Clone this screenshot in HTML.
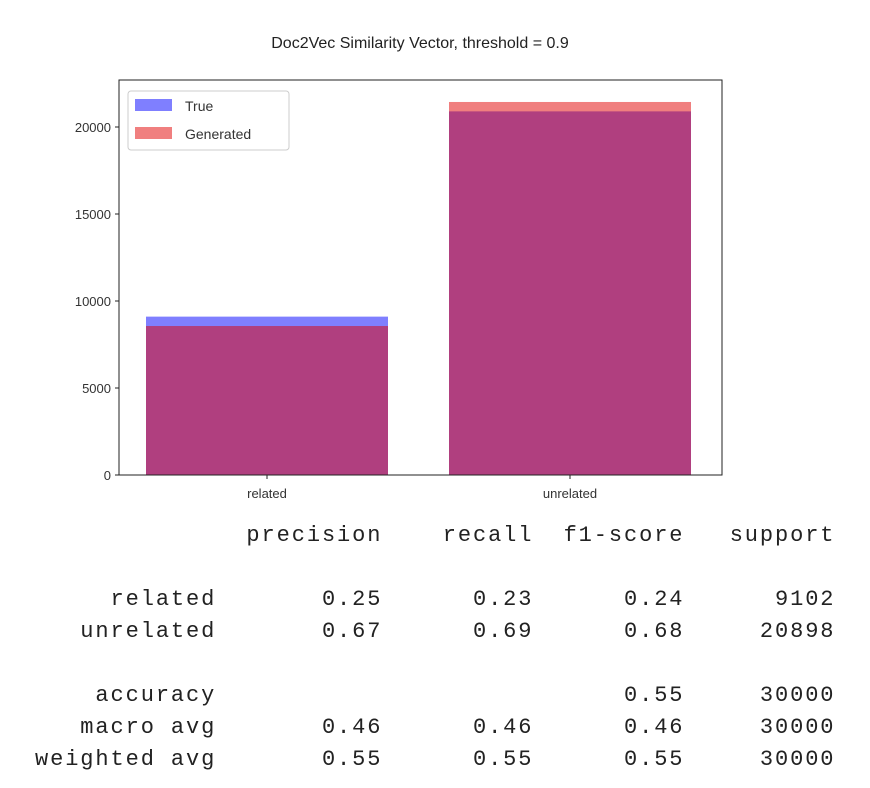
<!DOCTYPE html>
<html><head><meta charset="utf-8"><style>
body{margin:0;background:#fff;width:870px;height:788px;overflow:hidden;position:relative}
svg{position:absolute;left:0;top:0}
pre{position:absolute;left:35px;top:520px;margin:0;font-family:"Liberation Mono",monospace;font-size:22px;letter-spacing:1.9px;line-height:32px;color:#222}
</style></head><body>
<svg width="870" height="510" font-family="Liberation Sans, sans-serif">
<text x="420" y="48" text-anchor="middle" font-size="16" fill="#222">Doc2Vec Similarity Vector, threshold = 0.9</text>
<g id="bars"></g>
<rect x="119" y="80" width="603" height="395" fill="none" stroke="#222" stroke-width="1"/>
<g id="ticks" font-size="13" fill="#333"></g>
<g>
<rect x="128" y="91" width="161" height="59" rx="3" fill="#fff" fill-opacity="0.8" stroke="#ccc"/>
<rect x="135" y="99" width="37" height="12" fill="rgba(0,0,255,0.5)"/>
<text x="185" y="111" font-size="14" fill="#333">True</text>
<rect x="135" y="127" width="37" height="12" fill="rgba(225,0,0,0.5)"/>
<text x="185" y="139" font-size="14" fill="#333">Generated</text>
</g>
</svg>
<pre>              precision    recall  f1-score   support

     related       0.25      0.23      0.24      9102
   unrelated       0.67      0.69      0.68     20898

    accuracy                           0.55     30000
   macro avg       0.46      0.46      0.46     30000
weighted avg       0.55      0.55      0.55     30000</pre>
<script>
const categories=["related","unrelated"];
const trueCounts=[9102,20898];
const generatedCounts=[8562,21438];
const yTicks=[0,5000,10000,15000,20000];
const NS="http://www.w3.org/2000/svg";
const y=v=>475-v*0.0174;
const x=i=>146+i*303;
const bw=242;
const bars=document.getElementById('bars'),ticks=document.getElementById('ticks');
function mk(tag,attrs,parent){const e=document.createElementNS(NS,tag);for(const k in attrs)e.setAttribute(k,attrs[k]);parent.appendChild(e);return e;}
categories.forEach((c,i)=>{
  const b=mk('rect',{x:x(i),y:y(trueCounts[i]),width:bw,height:475-y(trueCounts[i]),fill:'rgba(0,0,255,0.5)'},bars);
  
  
  const g=mk('rect',{x:x(i),y:y(generatedCounts[i]),width:bw,height:475-y(generatedCounts[i]),fill:'rgba(225,0,0,0.5)'},bars);
  
  
  const t=mk('line',{x1:x(i)+bw/2,x2:x(i)+bw/2,y1:475,y2:479,stroke:'#222'},ticks);
  const l=mk('text',{x:x(i)+bw/2,y:498,'text-anchor':'middle'},ticks);l.textContent=c;
  
  
});
yTicks.forEach(v=>{
  mk('line',{x1:115,x2:119,y1:y(v),y2:y(v),stroke:'#222'},ticks);
  const l=mk('text',{x:111,y:y(v)+5,'text-anchor':'end'},ticks);l.textContent=v;
  
  
});
</script>
</body></html>
